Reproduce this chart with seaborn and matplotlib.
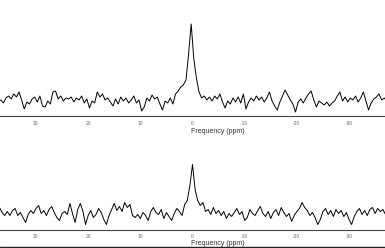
import numpy as np
import pandas as pd
import matplotlib
matplotlib.use('Agg')
import matplotlib.pyplot as plt
from matplotlib.lines import Line2D
import seaborn as sns

# espectro superior: puntos cada 0.5 ppm empezando en 37.25 ppm
ppm_inicio_sup = 37.25
intensidad_sup = [
    15, 16, 13, 18, 20, 17, 22, 19, 24, 16,
    7, 14, 12, 17, 19, 14, 20, 10, 9, 15,
    12, 24, 25, 17, 20, 15, 18, 17, 19, 14,
    18, 16, 20, 13, 17, 8, 15, 13, 24, 19,
    22, 16, 18, 14, 10, 17, 12, 19, 15, 18,
    13, 16, 20, 13, 16, 5, 9, 18, 15, 21,
    17, 19, 12, 6, 15, 13, 18, 12, 22, 25,
    29, 31, 36, 62, 92, 57, 38, 24, 18, 20,
    16, 19, 15, 20, 17, 22, 14, 8, 15, 12,
    18, 14, 19, 13, 22, 7, 14, 18, 15, 20,
    16, 19, 14, 18, 24, 15, 10, 6, 14, 20,
    26, 21, 16, 12, 4, 14, 17, 13, 18, 22,
    25, 16, 9, 15, 13, 11, 14, 10, 13, 15,
    20, 24, 15, 19, 14, 18, 16, 20, 14, 18,
    24, 15, 6, 13, 17, 19, 22, 16, 18, 15,
]

# espectro inferior: puntos cada 0.5 ppm empezando en 37.0 ppm
ppm_inicio_inf = 37.0
intensidad_inf = [
    22, 17, 14, 18, 14, 19, 21, 14, 17, 12,
    7, 15, 19, 16, 21, 24, 16, 19, 14, 20,
    23, 17, 12, 9, 16, 18, 15, 26, 16, 7,
    20, 26, 18, 5, 14, 19, 12, 15, 21, 17,
    10, 5, 14, 20, 26, 19, 23, 18, 27, 22,
    25, 14, 12, 15, 11, 17, 14, 9, 18, 22,
    17, 15, 20, 11, 17, 13, 9, 16, 21, 18,
    14, 25, 29, 44, 65, 40, 29, 24, 27, 18,
    20, 15, 22, 16, 19, 14, 18, 11, 16, 13,
    17, 21, 15, 18, 9, 12, 20, 16, 14, 19,
    23, 16, 13, 18, 11, 17, 20, 14, 22, 17,
    13, 16, 8, 14, 18, 21, 27, 22, 19, 14,
    17, 12, 5, 10, 18, 21, 15, 19, 13, 20,
    16, 19, 13, 17, 10, 5, 13, 18, 21, 15,
    19, 14, 20, 22, 16, 21, 18, 20, 15,
]

ticks_ppm = [30, 20, 10, 0, -10, -20, -30]
paso = 0.5

df_sup = pd.DataFrame({'ppm': ppm_inicio_sup - paso * np.arange(len(intensidad_sup)),
                       'intensidad': intensidad_sup})
df_inf = pd.DataFrame({'ppm': ppm_inicio_inf - paso * np.arange(len(intensidad_inf)),
                       'intensidad': intensidad_inf})

sns.set_style('white')
plt.rcParams['font.family'] = ['Liberation Sans', 'DejaVu Sans']
plt.rcParams['axes.unicode_minus'] = False

W, H = 385, 248
fig = plt.figure(figsize=(W / 100, H / 100), dpi=100)

# (df, y del eje en px, altura en px, y del titulo en ejes)
paneles = [
    (df_sup, 116, 116, -0.10),
    (df_inf, 229.5, 105.5, -0.095),
]

for df, y_eje, alto, y_lab in paneles:
    ax = fig.add_axes([0, (H - y_eje) / H, 1, alto / H])
    sns.lineplot(data=df, x='ppm', y='intensidad', ax=ax, color='black', lw=0.7)
    ax.set_xlim(36.9, -36.9)
    ax.set_ylim(0, alto)
    for s in ['top', 'left', 'right']:
        ax.spines[s].set_visible(False)
    ax.spines['bottom'].set_color('#444444')
    ax.spines['bottom'].set_linewidth(0.8)
    ax.set_yticks([])
    ax.set_ylabel('')
    ax.set_xticks(ticks_ppm)
    ax.set_xticklabels([str(t) for t in ticks_ppm])
    ax.tick_params(axis='x', direction='out', length=2.5, width=0.6, colors='#666666',
                   labelsize=3.5, pad=1)
    ax.set_xlabel('Frequency (ppm)', fontsize=5, color='#333333')
    ax.xaxis.set_label_coords(218 / W, y_lab)
    ax.patch.set_alpha(0)

# borde oscuro al pie de la figura
fig.add_artist(Line2D([0, 1], [1.0 / H, 1.0 / H], color='#222222', lw=1.0,
                      transform=fig.transFigure))

fig.savefig('out.png', dpi=100)
